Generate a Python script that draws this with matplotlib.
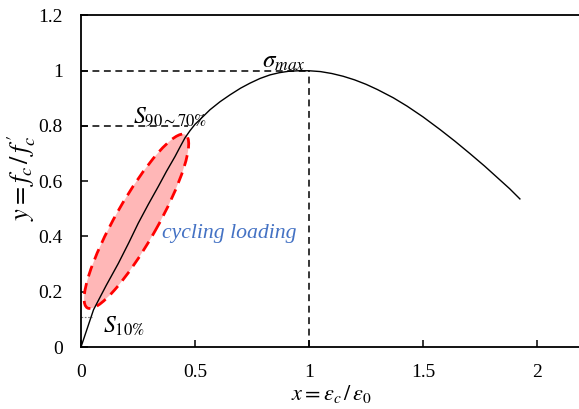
import matplotlib
matplotlib.use("Agg")
import matplotlib.pyplot as plt
from matplotlib.patches import Ellipse
from matplotlib.transforms import ScaledTranslation

plt.rcParams['font.family'] = ['Liberation Serif', 'DejaVu Serif']
plt.rcParams['mathtext.fontset'] = 'stix'

# stress-strain curve
curve_x = [0, 0.055, 0.11, 0.164, 0.21, 0.251, 0.295, 0.339, 0.375, 0.412, 0.435, 0.456,
           0.478, 0.5, 0.535, 0.566, 0.61, 0.654, 0.70, 0.741, 0.785, 0.829, 0.87, 0.91,
           0.955, 1.0, 1.05, 1.10, 1.15, 1.2, 1.25, 1.30, 1.37, 1.43, 1.5, 1.575, 1.64,
           1.706, 1.77, 1.825, 1.88, 1.925]
curve_y = [0, 0.135, 0.222, 0.303, 0.378, 0.448, 0.516, 0.581, 0.636, 0.689, 0.725, 0.757,
           0.783, 0.806, 0.834, 0.859, 0.888, 0.913, 0.937, 0.955, 0.972, 0.985, 0.993, 0.998,
           1.0, 1.0, 0.997, 0.990, 0.980, 0.967, 0.951, 0.932, 0.902, 0.872, 0.833, 0.787, 0.745,
           0.700, 0.655, 0.614, 0.573, 0.536]

# reference levels
peak_x, peak_y = 1.0, 1.0
upper_level, upper_x = 0.8, 0.47
lower_level, lower_x = 0.11, 0.05

# cycling-loading zone (centre in data units)
zone_cx, zone_cy = 0.243, 0.455

x_ticks = [0, 0.5, 1, 1.5, 2]
x_ticklabels = ['0', '0.5', '1', '1.5', '2']
y_ticks = [0, 0.2, 0.4, 0.6, 0.8, 1.0, 1.2]
y_ticklabels = ['0', '0.2', '0.4', '0.6', '0.8', '1', '1.2']

W, H = 579, 409
fig = plt.figure(figsize=(W / 100, H / 100), dpi=100)
ax = fig.add_axes([81 / W, 62 / H, 2.2 * 228 / W, 331.5 / H])
ax.set_xlim(0, 2.2)
ax.set_ylim(0, 1.2)

# zone ellipse, sized in inches around a data centre
ell = Ellipse((0, 0), 1.99, 0.42, angle=60.5,
              facecolor='#FFB7B7', edgecolor='#FF0000', lw=2.0,
              linestyle=(0, (4, 2.5)), zorder=2,
              transform=fig.dpi_scale_trans + ScaledTranslation(zone_cx, zone_cy, ax.transData))
ax.add_patch(ell)

ax.plot(curve_x, curve_y, color='black', lw=1.0, zorder=3)

dash = (0, (4.5, 3))
ax.plot([0, peak_x], [peak_y, peak_y], color='black', lw=1.1, linestyle=dash, zorder=1)
ax.plot([peak_x, peak_x], [0, peak_y], color='black', lw=1.1, linestyle=dash, zorder=1)
ax.plot([0, upper_x], [upper_level, upper_level], color='black', lw=1.1, linestyle=dash, zorder=1)
ax.plot([0, lower_x], [lower_level, lower_level], color='#777777', lw=0.8,
        linestyle=(0, (1.5, 1.5)), zorder=1)

ax.text(0.794, 1.011, r'$\sigma_{max}$', fontsize=18, color='black', zorder=4)
ax.text(0.228, 0.812, r'$S_{\mathit{90\sim70\%}}$', fontsize=17, color='black', zorder=4)
ax.text(0.096, 0.052, r'$S_{\mathit{10\%}}$', fontsize=17, color='black', zorder=4)
ax.text(0.354, 0.395, 'cycling loading', fontsize=15.7, style='italic',
        color='#4472C4', zorder=4)

ax.set_xticks(x_ticks)
ax.set_xticklabels(x_ticklabels)
ax.set_yticks(y_ticks)
ax.set_yticklabels(y_ticklabels)
ax.tick_params(direction='in', length=5, width=1.1, labelsize=14, pad=12)
ax.tick_params(axis='y', pad=13)

for s in ['left', 'bottom', 'top']:
    ax.spines[s].set_linewidth(1.3)
ax.spines['right'].set_visible(False)

fig.text(22 / W, 1 - 178 / H, r"$y = f_c\,/\,f_c^{\,\prime}$", fontsize=19,
         rotation=90, ha='center', va='center')
fig.text(331 / W, 1 - 394 / H, r"$x = \varepsilon_c\,/\,\varepsilon_0$", fontsize=16,
         ha='center', va='center')

fig.savefig('out.png', dpi=100)
